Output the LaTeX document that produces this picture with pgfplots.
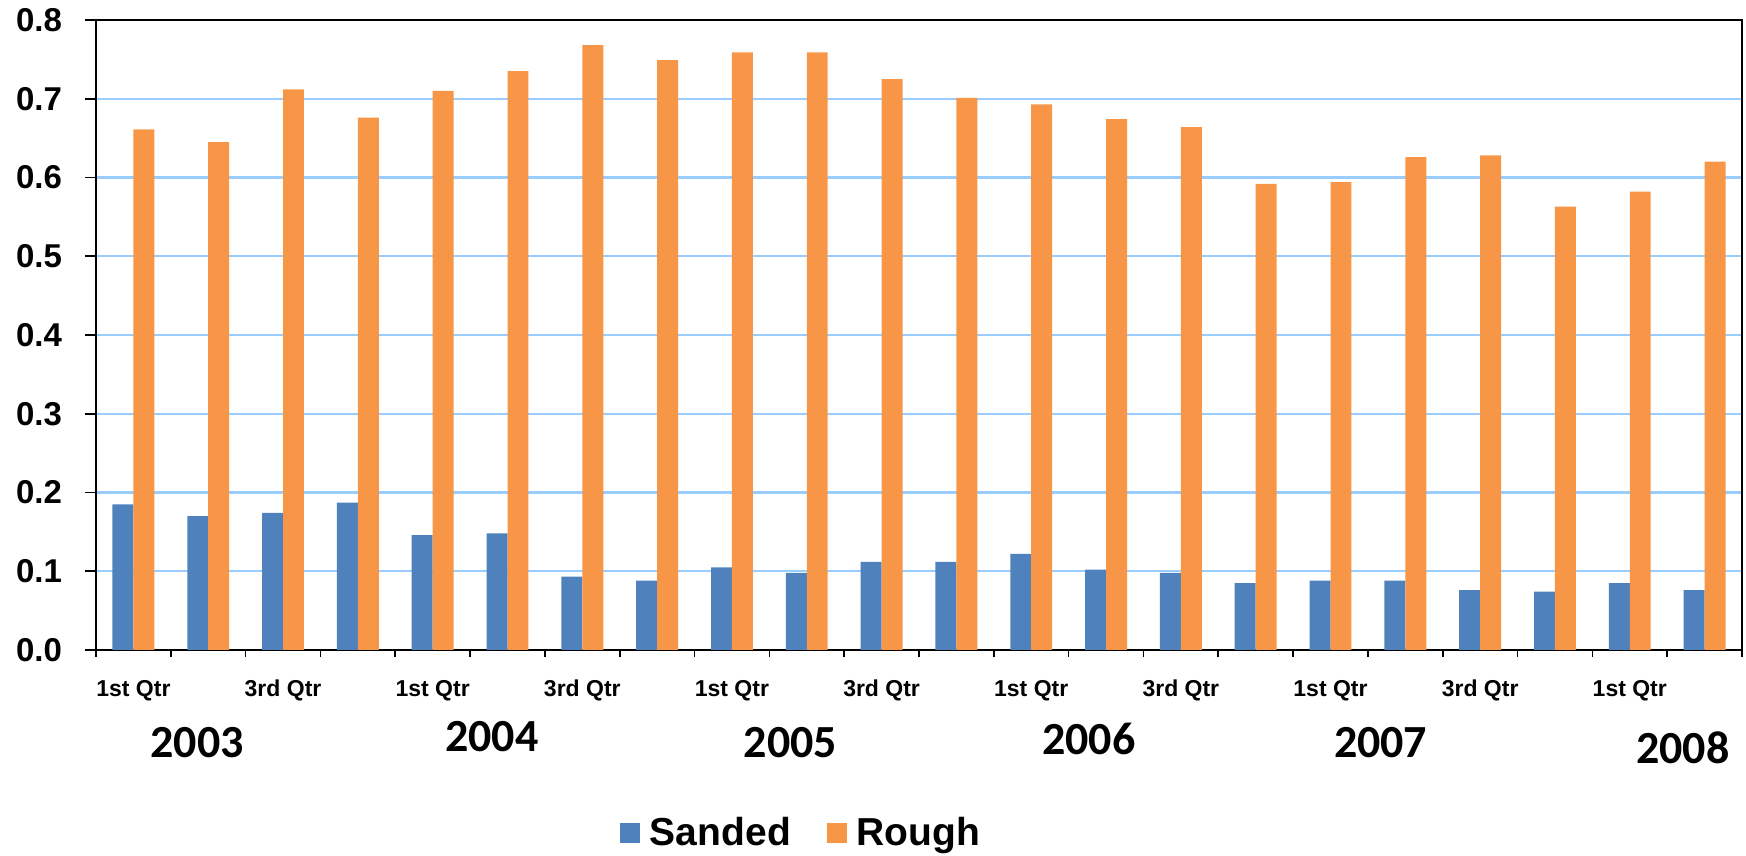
\documentclass[border=0pt]{standalone}
\usepackage{pgfplots}
\pgfplotsset{compat=1.18}
\usepackage{fontspec}
\setmainfont{Liberation Sans}
\newfontfamily\yearfont{Carlito}
\definecolor{sanded}{HTML}{4F81BD}
\definecolor{rough}{HTML}{F79646}
\definecolor{gridblue}{HTML}{99CCFF}

\begin{document}
\begin{tikzpicture}
    \begin{axis}[
        name=main,
        scale only axis,
        width=823pt,
        height=315pt,
        xmin=-0.5, xmax=21.5,
        ymin=0, ymax=0.8,
        ybar=0pt,
        bar width=0.28,
        axis line style={line width=1.2pt},
        tick pos=left,
        tick align=outside,
        ytick={0,0.1,...,0.8},
        xtick={0,2,...,20},
        xticklabels={1st Qtr,3rd Qtr,1st Qtr,3rd Qtr,1st Qtr,3rd Qtr,1st Qtr,3rd Qtr,1st Qtr,3rd Qtr,1st Qtr},
        minor xtick={-0.5,0.5,...,21.5},
        major x tick style={draw=none},
        minor x tick style={line width=0.8pt, black},
        major y tick style={line width=0.8pt, black},
        major tick length=5.5pt,
        minor tick length=3.5pt,
        ymajorgrids,
        grid style={draw=gridblue, line width=1.2pt},
        /pgf/number format/assume math mode=true,
        yticklabel style={font=\bfseries\fontsize{16.5}{17}\selectfont, xshift=-8pt,
            /pgf/number format/.cd, fixed, fixed zerofill, precision=1},
        xticklabel style={font=\bfseries\fontsize{11.5}{12}\selectfont, yshift=-6pt},
        legend columns=2,
        legend style={at={(0.429,-0.29)}, anchor=center, draw=none,
            font=\bfseries\fontsize{19.5}{20}\selectfont,
            /tikz/every odd column/.append style={column sep=3pt},
            /tikz/every even column/.append style={column sep=16pt}},
        legend image code/.code={\fill[#1] (0pt,-5pt) rectangle (10pt,5pt);},
        clip=false,
    ]
    \addplot[fill=sanded, draw=none] coordinates {
        (0,0.185) (1,0.170) (2,0.174) (3,0.187) (4,0.146) (5,0.148)
        (6,0.093) (7,0.088) (8,0.105) (9,0.098) (10,0.112) (11,0.112)
        (12,0.122) (13,0.102) (14,0.098) (15,0.085) (16,0.088) (17,0.088)
        (18,0.076) (19,0.074) (20,0.085) (21,0.076)
    };
    \addlegendentry{Sanded}
    \addplot[fill=rough, draw=none] coordinates {
        (0,0.661) (1,0.645) (2,0.712) (3,0.676) (4,0.710) (5,0.735)
        (6,0.768) (7,0.749) (8,0.759) (9,0.759) (10,0.725) (11,0.701)
        (12,0.693) (13,0.674) (14,0.664) (15,0.592) (16,0.594) (17,0.626)
        (18,0.628) (19,0.563) (20,0.582) (21,0.620)
    };
    \addlegendentry{Rough}
    \node[font=\yearfont\bfseries\fontsize{23}{24}\selectfont] at ([yshift=-46.5pt]axis cs:0.85,0) {2003};
    \node[font=\yearfont\bfseries\fontsize{23}{24}\selectfont] at ([yshift=-43.5pt]axis cs:4.79,0) {2004};
    \node[font=\yearfont\bfseries\fontsize{23}{24}\selectfont] at ([yshift=-46.5pt]axis cs:8.78,0) {2005};
    \node[font=\yearfont\bfseries\fontsize{23}{24}\selectfont] at ([yshift=-44.5pt]axis cs:12.77,0) {2006};
    \node[font=\yearfont\bfseries\fontsize{23}{24}\selectfont] at ([yshift=-46.5pt]axis cs:16.67,0) {2007};
    \node[font=\yearfont\bfseries\fontsize{23}{24}\selectfont] at ([yshift=-49pt]axis cs:20.71,0) {2008};
    \end{axis}
    \pgfresetboundingbox
    \path[use as bounding box] ([shift={(-48pt,-103pt)}]main.south west) rectangle ([shift={(2pt,10pt)}]main.north east);
\end{tikzpicture}
\end{document}
